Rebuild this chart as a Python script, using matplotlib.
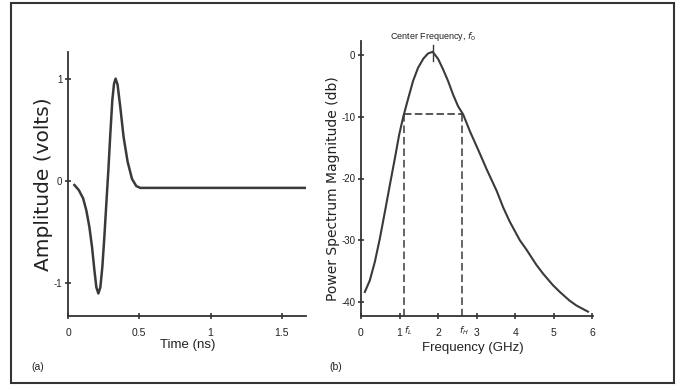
#!/usr/bin/env python3

import matplotlib
matplotlib.use("Agg")
import matplotlib.pyplot as plt
import matplotlib.transforms as mtrans
from matplotlib.patches import Rectangle

# (a) pulse in time
time_ns = [0.045, 0.076, 0.106, 0.129, 0.150, 0.169, 0.185, 0.199, 0.213, 0.227,
           0.241, 0.255, 0.269, 0.283, 0.297, 0.311, 0.323, 0.334, 0.348, 0.367,
           0.390, 0.418, 0.449, 0.479, 0.507, 1.67]
amplitude = [-0.04, -0.09, -0.17, -0.29, -0.45, -0.65, -0.87, -1.04, -1.10, -1.04,
             -0.84, -0.55, -0.22, 0.10, 0.46, 0.79, 0.95, 1.00, 0.94, 0.72,
             0.43, 0.19, 0.02, -0.05, -0.068, -0.068]

# (b) power spectrum
freq_ghz = [0.10, 0.23, 0.36, 0.49, 0.62, 0.75, 0.88, 0.99, 1.10, 1.23, 1.35, 1.48,
            1.62, 1.74, 1.86, 2.00, 2.13, 2.26, 2.39, 2.52, 2.65, 2.83, 3.08, 3.26,
            3.52, 3.69, 3.86, 4.12, 4.29, 4.55, 4.72, 4.98, 5.16, 5.41, 5.59, 5.89]
power_db = [-38.4, -36.5, -33.5, -29.7, -25.4, -21.0, -16.7, -12.9, -9.9, -6.9, -4.2, -2.05,
            -0.54, 0.28, 0.55, -0.6, -2.3, -4.2, -6.4, -8.3, -9.6, -12.4, -15.9, -18.5,
            -22.0, -24.7, -27.0, -30.0, -31.5, -34.0, -35.4, -37.3, -38.4, -39.8, -40.6, -41.6]

f_center = 1.86
f_low = 1.12
f_high = 2.62
band_level = -9.6

left_xticks = [0, 0.5, 1, 1.5]
left_xlabels = ["0", "0.5", "1", "1.5"]
left_yticks = [-1, 0, 1]
right_xticks = [0, 1, 2, 3, 4, 5, 6]
right_yticks = [0, -10, -20, -30, -40]

plt.rcParams["font.family"] = ["Liberation Sans Narrow", "Liberation Sans", "DejaVu Sans"]
plt.rcParams["axes.unicode_minus"] = False

W, H = 689, 390
fig = plt.figure(figsize=(W / 100, H / 100), dpi=100)

def px_axes(x0, y0, x1, y1):
    return fig.add_axes([x0 / W, 1 - y1 / H, (x1 - x0) / W, (y1 - y0) / H])

line_col = "#3a3a3a"
axis_col = "#333333"
text_col = "#222222"

def style(ax):
    for s in ["top", "right"]:
        ax.spines[s].set_visible(False)
    for s in ["left", "bottom"]:
        ax.spines[s].set_color(axis_col)
        ax.spines[s].set_linewidth(1.3)
    ax.tick_params(direction="inout", length=5, width=1.2, color=axis_col,
                   labelsize=7, pad=1.5, labelcolor=text_col)
    ax.tick_params(axis="x", pad=6, labelsize=7.5)
    ax.patch.set_alpha(0)

# ---- (a)
ax1 = px_axes(68, 52, 306, 316)
ax1.plot(time_ns, amplitude, color=line_col, lw=1.8, solid_joinstyle="round")
ax1.set_xlim(0, 1.67)
ax1.set_ylim(-1.32, 1.26)
ax1.set_xticks(left_xticks, left_xlabels)
ax1.set_yticks(left_yticks)
style(ax1)
ax1.set_xlabel("Time (ns)", fontsize=9.5, va="center", color=text_col)
ax1.xaxis.set_label_coords(0.502, -0.11)
ax1.set_ylabel("Amplitude (volts)", fontsize=14.5, family="DejaVu Sans",
               va="center", color=text_col)
ax1.yaxis.set_label_coords(-0.105, 0.50)

# ---- (b)
ax2 = px_axes(361, 41, 593, 316)
ax2.plot(freq_ghz, power_db, color=line_col, lw=1.5, solid_joinstyle="round")
ax2.plot([f_low, f_high], [band_level, band_level], color=line_col, lw=1.2,
         linestyle=(0, (4.5, 2)))
ax2.plot([f_low, f_low], [band_level, -42.3], color=line_col, lw=1.1,
         linestyle=(0, (5, 2.5)))
ax2.plot([f_high, f_high], [band_level, -42.3], color=line_col, lw=1.1,
         linestyle=(0, (5, 2.5)))
ax2.plot([f_center, f_center], [-1.0, 1.6], color=line_col, lw=1.0)
ax2.set_xlim(0, 6.02)
ax2.set_ylim(-42.3, 2.3)
ax2.set_xticks(right_xticks)
ax2.set_yticks(right_yticks)
style(ax2)
ax2.text(f_center, 3.0, "Center Frequency, $f_0$", fontsize=6.5, ha="center",
         va="center", color=text_col, clip_on=False)
below = ax2.transData + mtrans.ScaledTranslation(0, -6 / 72, fig.dpi_scale_trans)
ax2.text(f_low + 0.1, -42.3, "$f_L$", fontsize=6.5, ha="center", va="top",
         color=text_col, clip_on=False, transform=below)
ax2.text(f_high + 0.04, -42.3, "$f_H$", fontsize=6.5, ha="center", va="top",
         color=text_col, clip_on=False, transform=below)
ax2.set_xlabel("Frequency (GHz)", fontsize=9.5, va="center", color=text_col)
ax2.xaxis.set_label_coords(0.48, -0.115)
ax2.set_ylabel("Power Spectrum Magnitude (db)", fontsize=10, family="DejaVu Sans",
               va="center", color=text_col)
ax2.yaxis.set_label_coords(-0.122, 0.464)

# panel letters
fig.text(38 / W, 1 - 367 / H, "(a)", fontsize=7.5, ha="center", va="center", color=text_col)
fig.text(336 / W, 1 - 367 / H, "(b)", fontsize=7.5, ha="center", va="center", color=text_col)

# outer frame
fig.patches.append(Rectangle((11 / W, 1 - 383 / H), (674 - 11) / W, (383 - 3) / H,
                             transform=fig.transFigure, fill=False,
                             edgecolor="#333333", linewidth=1.5))

fig.savefig("out.png", dpi=100)
